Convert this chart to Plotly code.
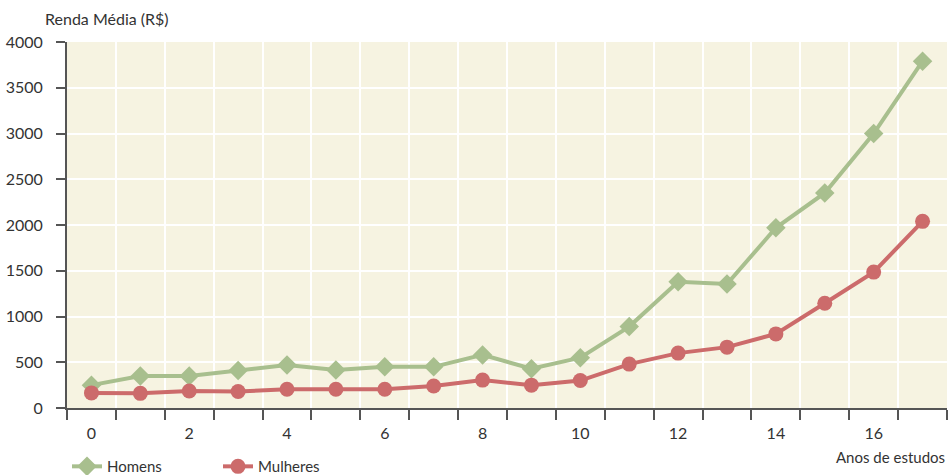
import plotly.graph_objects as go

anos = list(range(18))
homens = [250, 350, 350, 410, 470, 415, 450, 450, 580, 430, 550, 890, 1380, 1355, 1970, 2350, 3000, 3790]
mulheres = [165, 160, 185, 180, 205, 205, 205, 240, 305, 250, 300, 480, 600, 665, 810, 1145, 1485, 2040]
x_labels = [str(v) for v in range(0, 17, 2)]

green = "#a8bf8e"
red = "#cc6b6b"
font_family = "Lato, 'Open Sans', sans-serif"
txt = "#333333"

fig = go.Figure()
fig.add_trace(go.Scatter(x=anos, y=homens, name="Homens", mode="lines+markers",
                         line=dict(color=green, width=4),
                         marker=dict(symbol="diamond", size=15, color=green)))
fig.add_trace(go.Scatter(x=anos, y=mulheres, name="Mulheres", mode="lines+markers",
                         line=dict(color=red, width=4),
                         marker=dict(symbol="circle", size=15, color=red)))

bounds = [a - 0.5 for a in anos] + [anos[-1] + 0.5]

fig.update_layout(
    width=952, height=475,
    margin=dict(l=67, r=5, t=42, b=67, autoexpand=False),
    paper_bgcolor="white",
    plot_bgcolor="#f6f3e1",
    font=dict(family=font_family, size=15, color=txt),
    showlegend=True,
    legend=dict(orientation="h", x=0, y=-0.115, xanchor="left", yanchor="top",
                font=dict(size=15, color=txt), entrywidth=106, entrywidthmode="pixels",
                tracegroupgap=0, bgcolor="rgba(0,0,0,0)"),
    xaxis=dict(
        range=[bounds[0], bounds[-1]],
        tickmode="array", tickvals=[int(v) for v in x_labels], ticktext=x_labels,
        ticks="", showgrid=False, zeroline=False,
        showline=True, linecolor="#555555", linewidth=2,
        ticklabelstandoff=10,
        tickfont=dict(size=16, color=txt),
        minor=dict(tickmode="array", tickvals=bounds, ticks="outside", ticklen=10,
                   tickwidth=2, tickcolor="#555555", showgrid=True,
                   gridcolor="white", gridwidth=1.5),
    ),
    yaxis=dict(
        range=[0, 4000], tickmode="linear", tick0=0, dtick=500,
        ticks="outside", ticklen=9, tickwidth=2, tickcolor="#555555",
        showgrid=True, gridcolor="white", gridwidth=1.5, zeroline=False,
        showline=True, linecolor="#555555", linewidth=2,
        ticklabelstandoff=10,
        tickfont=dict(size=16, color=txt),
    ),
    annotations=[
        dict(text="Renda Média (R$)", xref="paper", yref="paper", x=-0.027, y=1.0,
             xanchor="left", yanchor="bottom", yshift=12, showarrow=False,
             font=dict(size=16, color=txt)),
        dict(text="Anos de estudos", xref="paper", yref="paper", x=1.0, y=0,
             xanchor="right", yanchor="top", yshift=-38, showarrow=False,
             font=dict(size=15, color=txt)),
    ],
)

fig.write_html("out.html")
